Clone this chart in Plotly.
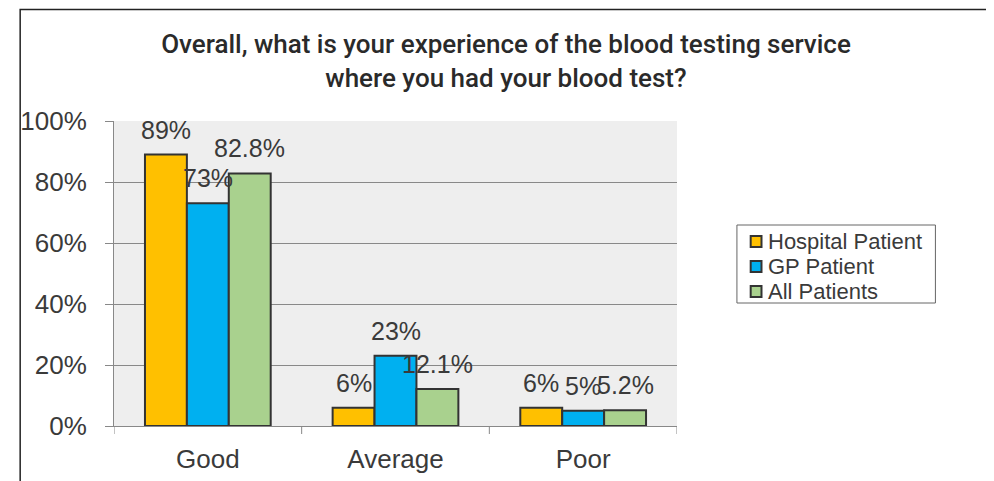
import plotly.graph_objects as go

categories = ["Good", "Average", "Poor"]
series_names = ["Hospital Patient", "GP Patient", "All Patients"]
hospital = [0.89, 0.06, 0.06]
gp = [0.73, 0.23, 0.05]
all_patients = [0.828, 0.121, 0.052]
labels_hospital = ["89%", "6%", "6%"]
labels_gp = ["73%", "23%", "5%"]
labels_all = ["82.8%", "12.1%", "5.2%"]
y_ticks = [0, 0.2, 0.4, 0.6, 0.8, 1.0]
y_ticklabels = ["0%", "20%", "40%", "60%", "80%", "100%"]

colors = ["#FFC000", "#00B0F0", "#A9D18E"]
values = [hospital, gp, all_patients]
labels = [labels_hospital, labels_gp, labels_all]

TXT = "#3a3a3a"
FONT = "Liberation Sans, Arial, sans-serif"

fig = go.Figure()
bargap = 0.33
for name, vals, col in zip(series_names, values, colors):
    fig.add_trace(go.Bar(
        x=list(range(len(categories))), y=vals, name=name,
        marker=dict(color=col, line=dict(color="#333333", width=2)),
        showlegend=False, hoverinfo="skip",
    ))

w = (1 - bargap) / 3
for i, labs in enumerate(labels):
    off = (i - 1) * w
    for j, (lab, v) in enumerate(zip(labs, values[i])):
        fig.add_annotation(x=j + off, y=v, xref="x", yref="y", text=lab,
                           showarrow=False, yshift=25,
                           font=dict(size=25, color=TXT, family=FONT))

# page coordinates of plot area (figure div sits at page offset 8,8)
OFF = 8
L, R, T, B = 104, 677, 121, 426
pw, ph = R - L, B - T


def px(x):
    return (x - L) / pw


def py(y):
    return 1 - (y - T) / ph


# outer chart frame
fig.add_shape(type="rect", xref="paper", yref="paper",
              x0=px(8.5), x1=px(1010), y0=py(520), y1=py(9.5),
              line=dict(color="#222222", width=1.5), fillcolor="rgba(0,0,0,0)",
              layer="below")

# legend (drawn manually to match the compact row spacing)
fig.add_shape(type="rect", xref="paper", yref="paper",
              x0=px(738), x1=px(940), y0=py(303), y1=py(225),
              line=dict(color="#666666", width=1), fillcolor="white")
row_y = [241, 266, 291]
for name, col, ry in zip(series_names, colors, row_y):
    fig.add_shape(type="rect", xref="paper", yref="paper",
                  x0=px(752), x1=px(763), y0=py(ry + 6), y1=py(ry - 5),
                  line=dict(color="#333333", width=2), fillcolor=col)
    fig.add_annotation(xref="paper", yref="paper", x=px(768), y=py(ry),
                       xanchor="left", yanchor="middle", text=name,
                       showarrow=False, font=dict(size=22, color=TXT, family=FONT))

fig.update_layout(
    width=994, height=481,
    margin=dict(l=L - OFF, r=994 - (R - OFF), t=T - OFF, b=481 - (B - OFF)),
    paper_bgcolor="white", plot_bgcolor="#EEEEEE",
    barmode="group", bargap=bargap, bargroupgap=0,
    font=dict(family=FONT, color=TXT),
    title=dict(text="Overall, what is your experience of the blood testing service<br>where you had your blood test?",
               x=(506 - OFF) / 994, xanchor="center", y=1 - (53 - OFF) / 481, yanchor="top",
               font=dict(size=26, color="#2a2a2a", family="Roboto, Liberation Sans, sans-serif", weight=500)),
    showlegend=False,
    hovermode=False,
)
fig.update_yaxes(range=[0, 1], tickvals=y_ticks, ticktext=y_ticklabels,
                 showgrid=True, gridcolor="#888888", gridwidth=1,
                 showline=True, linecolor="#888888", linewidth=1,
                 ticks="outside", ticklen=8, tickcolor="#888888",
                 ticklabelstandoff=13,
                 tickfont=dict(size=26, color=TXT), zeroline=False)
fig.update_xaxes(range=[-0.5, 2.5], tickvals=[0, 1, 2], ticktext=categories,
                 showline=True, linecolor="#888888", linewidth=1,
                 ticks="", showgrid=False, zeroline=False,
                 ticklabelstandoff=10,
                 tickfont=dict(size=26, color=TXT))
# tick marks at category boundaries
for b in [-0.5, 0.5, 1.5, 2.5]:
    fig.add_shape(type="line", xref="x", yref="paper", x0=b, x1=b,
                  y0=0, y1=-8 / ph, line=dict(color="#888888", width=1))

fig.write_html("out.html", config={"displayModeBar": False})
